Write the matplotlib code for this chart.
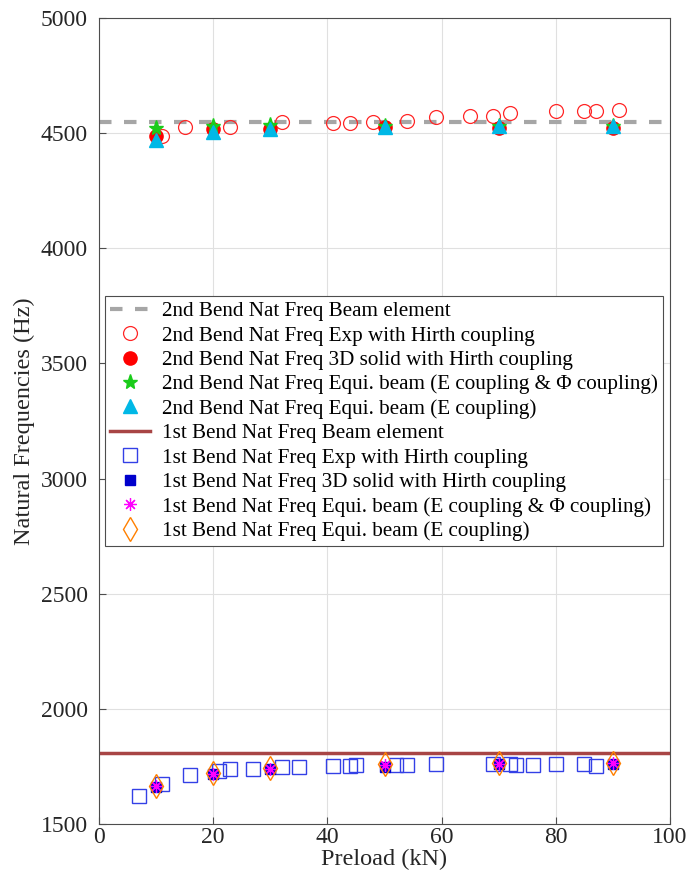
import matplotlib
matplotlib.use("Agg")
import matplotlib.pyplot as plt

plt.rcParams['font.family'] = ['Liberation Serif', 'DejaVu Serif']

# ---- data ----
beam_2nd = 4550
beam_1st = 1810

exp2_x = [11, 15, 23, 32, 41, 44, 48, 54, 59, 65, 69, 72, 80, 85, 87, 91]
exp2_y = [4489, 4525, 4525, 4547, 4543, 4545, 4547, 4554, 4569, 4576, 4576, 4589, 4596, 4597, 4595, 4600]

sim_x = [10, 20, 30, 50, 70, 90]
solid2_y = [4489, 4517, 4517, 4525, 4524, 4524]
equiEPhi2_y = [4522, 4532, 4535, 4532, 4532, 4532]
equiE2_y = [4470, 4506, 4517, 4528, 4531, 4531]

exp1_x = [7, 11, 16, 21, 23, 27, 32, 35, 41, 44, 45, 52, 54, 59, 69, 72, 73, 76, 80, 85, 87]
exp1_y = [1623, 1673, 1714, 1732, 1738, 1738, 1746, 1746, 1753, 1752, 1755, 1756, 1755, 1761,
          1761, 1761, 1756, 1758, 1761, 1761, 1752]
solid1_y = [1662, 1717, 1738, 1749, 1761, 1761]
equiEPhi1_y = [1664, 1719, 1740, 1755, 1762, 1763]
equiE1_y = [1666, 1722, 1742, 1761, 1765, 1767]

labels = [
    "2nd Bend Nat Freq Beam element",
    "2nd Bend Nat Freq Exp with Hirth coupling",
    "2nd Bend Nat Freq 3D solid with Hirth coupling",
    "2nd Bend Nat Freq Equi. beam (E coupling & \u03A6 coupling)",
    "2nd Bend Nat Freq Equi. beam (E coupling)",
    "1st Bend Nat Freq Beam element",
    "1st Bend Nat Freq Exp with Hirth coupling",
    "1st Bend Nat Freq 3D solid with Hirth coupling",
    "1st Bend Nat Freq Equi. beam (E coupling & \u03A6 coupling)",
    "1st Bend Nat Freq Equi. beam (E coupling)",
]

xticks = [0, 20, 40, 60, 80, 100]
yticks = [1500, 2000, 2500, 3000, 3500, 4000, 4500, 5000]

fig = plt.figure(figsize=(6.91, 8.92), dpi=100)
ax = fig.add_axes([0.1433, 0.0762, 0.8263, 0.9036])

c_red = (1.0, 0.15, 0.15)
c_green = (0.1, 0.8, 0.1)
c_cyan = (0.0, 0.72, 0.9)
c_blue_o = (0.2, 0.25, 0.9)
c_blue_f = (0.0, 0.0, 0.8)
c_mag = (1.0, 0.0, 1.0)
c_orange = (1.0, 0.5, 0.0)
c_gray = (0.65, 0.65, 0.65)
c_dred = (0.66, 0.27, 0.27)

h = []
h.append(ax.axhline(beam_2nd, color=c_gray, lw=3, ls=(0, (3, 3)), zorder=2))
h.append(ax.plot(exp2_x, exp2_y, 'o', mfc='none', mec=c_red, ms=10, mew=0.9, zorder=3)[0])
h.append(ax.plot(sim_x, solid2_y, 'o', mfc='red', mec='red', ms=9.5, zorder=4)[0])
h.append(ax.plot(sim_x, equiEPhi2_y, '*', color=c_green, ms=11, zorder=5)[0])
h.append(ax.plot(sim_x, equiE2_y, '^', color=c_cyan, ms=10, zorder=6)[0])
h.append(ax.axhline(beam_1st, color=c_dred, lw=2.5, zorder=2))
h.append(ax.plot(exp1_x, exp1_y, 's', mfc='none', mec=c_blue_o, ms=9.5, mew=1.0, zorder=3)[0])
h.append(ax.plot(sim_x, solid1_y, 's', color=c_blue_f, ms=7.5, zorder=4)[0])
h.append(ax.plot(sim_x, equiEPhi1_y, marker=(8, 2, 0), ls='none', color=c_mag, ms=9, mew=0.9, zorder=5)[0])
h.append(ax.plot(sim_x, equiE1_y, 'd', mfc='none', mec=c_orange, ms=12, mew=1.0, zorder=6)[0])

ax.set_xlim(0, 100)
ax.set_ylim(1500, 5000)
ax.set_xticks(xticks)
ax.set_yticks(yticks)
ax.grid(True, color=(0.88, 0.88, 0.88), lw=0.8)
ax.set_axisbelow(True)
ax.tick_params(axis='both', direction='in', length=5, color=(0.3, 0.3, 0.3), labelsize=17,
               labelcolor=(0.15, 0.15, 0.15), top=False, right=False)
ax.tick_params(axis='x', pad=2)
ax.tick_params(axis='y', pad=8)
for s in ax.spines.values():
    s.set_color((0.3, 0.3, 0.3))
    s.set_linewidth(0.8)
ax.set_xlabel("Preload (kN)", fontsize=17.5, color=(0.15, 0.15, 0.15), labelpad=1)
ax.set_ylabel("Natural Frequencies (Hz)", fontsize=17.5, color=(0.15, 0.15, 0.15), labelpad=4)

leg = ax.legend(h, labels, loc='upper left', bbox_to_anchor=(0.0098, 0.655),
                fontsize=15.2, labelspacing=0.22, handlelength=1.9, handletextpad=0.55,
                borderpad=0.25, borderaxespad=0.0, fancybox=False, framealpha=1,
                edgecolor=(0.3, 0.3, 0.3))
leg.get_frame().set_linewidth(0.8)

fig.savefig("out.png", dpi=100)
